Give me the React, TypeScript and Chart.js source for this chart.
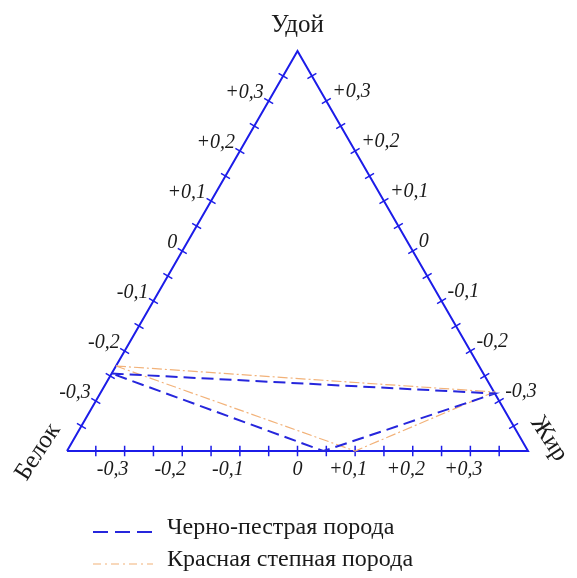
import React, { useEffect, useRef } from "react";
import { Chart, registerables } from "chart.js";

Chart.register(...registerables);

// ---- data ----
const breeds = ["Черно-пестрая порода", "Красная степная порода"];
// value read on each side of the triangle, per breed
const leftSideValues = [-0.245, -0.23];
const rightSideValues = [-0.285, -0.282];
const bottomSideValues = [0.045, 0.1];
const breedColors = ["#2626dc", "#f2b279"];
const breedDashes = [[12, 6], [10, 3, 2, 3]];
const breedWidths = [2, 1.2];

const vertexLabels = ["Удой", "Белок", "Жир"];
const tickValues = [-0.35, -0.3, -0.25, -0.2, -0.15, -0.1, -0.05, 0, 0.05, 0.1, 0.15, 0.2, 0.25, 0.3, 0.35];
const labelValues = [-0.3, -0.2, -0.1, 0, 0.1, 0.2, 0.3];
const labelTexts = ["-0,3", "-0,2", "-0,1", "0", "+0,1", "+0,2", "+0,3"];
const axisMin = -0.4;
const axisMax = 0.4;

const FRAME = "#1c1ce8";
const SERIF = '"Liberation Serif", "Times New Roman", serif';
const H = ((axisMax - axisMin) * Math.sqrt(3)) / 2;

type Side = "left" | "right" | "bottom";
function toXY(side: Side, v: number) {
  const t = (v - axisMin) / (axisMax - axisMin);
  if (side === "bottom") return { x: v, y: 0 };
  if (side === "left") return { x: axisMin + (0 - axisMin) * t, y: H * t };
  return { x: axisMax - axisMax * t, y: H * t };
}
const normals: Record<Side, { x: number; y: number }> = {
  bottom: { x: 0, y: 1 },
  left: { x: -Math.sqrt(3) / 2, y: 0.5 },
  right: { x: Math.sqrt(3) / 2, y: 0.5 },
};

function tickData(side: Side) {
  const half = 0.009;
  const out: { x: number; y: number }[] = [];
  tickValues.forEach((v) => {
    const p = toXY(side, v);
    const n = normals[side];
    out.push({ x: p.x - n.x * half, y: p.y - n.y * half });
    out.push({ x: p.x + n.x * half, y: p.y + n.y * half });
    out.push({ x: NaN, y: NaN });
  });
  return out;
}

export default function App() {
  const ref = useRef<HTMLCanvasElement | null>(null);
  useEffect(() => {
    if (!ref.current) return;
    const breedSets = breeds.map((name, i) => {
      const a = toXY("left", leftSideValues[i]);
      const b = toXY("right", rightSideValues[i]);
      const c = toXY("bottom", bottomSideValues[i]);
      return {
        label: name,
        data: [a, b, c, a],
        showLine: true,
        borderColor: breedColors[i],
        backgroundColor: breedColors[i],
        borderDash: breedDashes[i],
        borderWidth: breedWidths[i],
        pointRadius: 0,
        fill: false,
        clip: false as any,
      };
    });
    const corners = [toXY("bottom", axisMin), toXY("bottom", axisMax), toXY("left", axisMax), toXY("bottom", axisMin)];
    const frameSets = [
      { label: "frame", data: corners, showLine: true, borderColor: FRAME, borderWidth: 2, pointRadius: 0, clip: false as any },
      ...(["left", "right", "bottom"] as Side[]).map((s) => ({
        label: "ticks-" + s,
        data: tickData(s),
        showLine: true,
        spanGaps: false,
        borderColor: FRAME,
        borderWidth: 1.5,
        pointRadius: 0,
        clip: false as any,
      })),
    ];

    const labelsPlugin = {
      id: "ternaryLabels",
      afterDraw(chart: any) {
        const ctx = chart.ctx;
        const xs = chart.scales.x;
        const ys = chart.scales.y;
        const px = (p: { x: number; y: number }) => ({ x: xs.getPixelForValue(p.x), y: ys.getPixelForValue(p.y) });
        ctx.save();
        ctx.fillStyle = "#1a1a1a";
        ctx.textBaseline = "middle";
        ctx.font = `italic 20px ${SERIF}`;
        labelValues.forEach((v, i) => {
          const l = px(toXY("left", v));
          ctx.textAlign = "right";
          ctx.fillText(labelTexts[i], l.x - 5, l.y - 8);
          const r = px(toXY("right", v));
          ctx.textAlign = "left";
          ctx.fillText(labelTexts[i], r.x + 6, r.y - 9);
          const b = px(toXY("bottom", v));
          ctx.textAlign = "center";
          ctx.fillText(labelTexts[i], b.x + (v < 0 ? -12 : v > 0 ? -7 : 0), b.y + 19);
        });
        // vertex labels
        ctx.font = `25px ${SERIF}`;
        ctx.textAlign = "center";
        const top = px(toXY("left", axisMax));
        ctx.fillText(vertexLabels[0], top.x, top.y - 26);
        const bl = px(toXY("bottom", axisMin));
        ctx.save();
        ctx.translate(bl.x - 29, bl.y + 1);
        ctx.rotate((-57 * Math.PI) / 180);
        ctx.fillText(vertexLabels[1], 0, 0);
        ctx.restore();
        const br = px(toXY("bottom", axisMax));
        ctx.save();
        ctx.translate(br.x + 21, br.y - 12);
        ctx.rotate((57 * Math.PI) / 180);
        ctx.fillText(vertexLabels[2], 0, 0);
        ctx.restore();
        // legend
        ctx.font = `24px ${SERIF}`;
        ctx.textAlign = "left";
        breeds.forEach((name, i) => {
          const y = 528 + i * 32;
          ctx.save();
          ctx.strokeStyle = breedColors[i];
          ctx.lineWidth = breedWidths[i];
          ctx.setLineDash(i === 0 ? [15, 7] : [8, 4, 2, 4]);
          ctx.beginPath();
          ctx.moveTo(93, y + 4);
          ctx.lineTo(153, y + 4);
          ctx.stroke();
          ctx.restore();
          ctx.fillText(name, 167, y);
        });
        ctx.restore();
      },
    };

    const chart = new Chart(ref.current, {
      type: "scatter",
      data: { datasets: [...breedSets, ...frameSets] as any },
      options: {
        animation: false,
        responsive: true,
        maintainAspectRatio: false,
        layout: { padding: { left: 67, right: 49, top: 51, bottom: 127 } },
        scales: {
          x: { type: "linear", min: axisMin, max: axisMax, display: false },
          y: { type: "linear", min: 0, max: H, display: false },
        },
        plugins: { legend: { display: false }, tooltip: { enabled: false } },
      },
      plugins: [labelsPlugin],
    });
    return () => chart.destroy();
  }, []);
  return (
    <div style={{ position: "fixed", left: 0, top: 0, width: 577, height: 578, background: "#fff" }}>
      <canvas ref={ref} />
    </div>
  );
}
